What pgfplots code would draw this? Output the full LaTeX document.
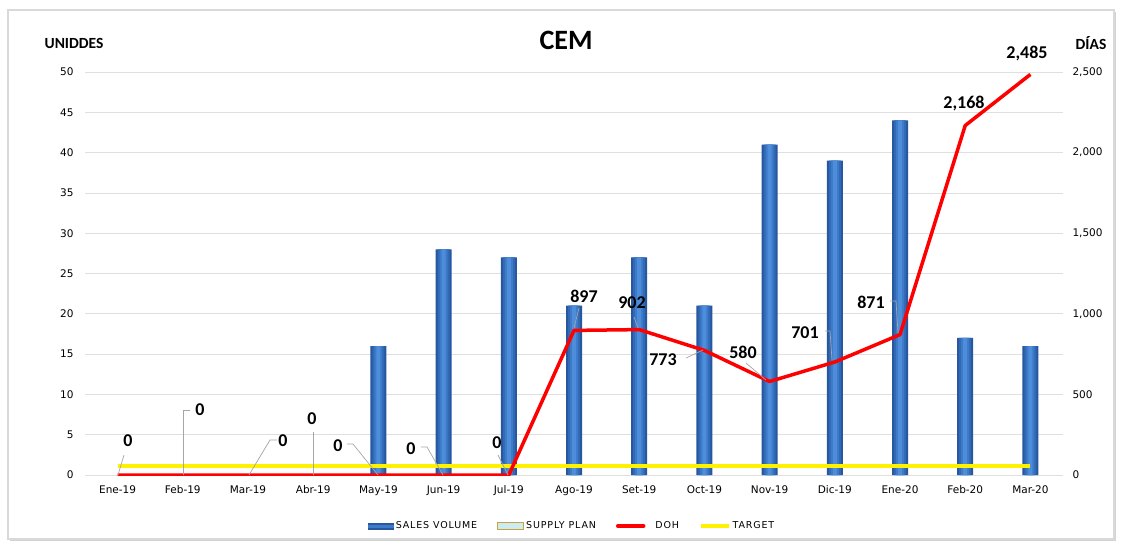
\documentclass[border=0pt]{standalone}
\usepackage{pgfplots}
\pgfplotsset{compat=1.18}
\usepackage{fontspec}
\setmainfont{Carlito}
\newfontfamily\tickfont{DejaVu Sans}
\newfontfamily\legfont[LetterSpace=9]{DejaVu Sans}
\usetikzlibrary{shadows}
\definecolor{barA}{HTML}{26579F}
\definecolor{barB}{HTML}{3169B6}
\definecolor{barC}{HTML}{3D7BC9}
\definecolor{barD}{HTML}{4D8DDA}
\definecolor{supfill}{HTML}{CDEBF3}
\definecolor{supedge}{HTML}{C9A43A}
\begin{document}
\begin{tikzpicture}[x=1pt,y=1pt]
\path (0,0) rectangle (1123,547);
\draw[gray!30, line width=1.5pt, fill=white, drop shadow={shadow xshift=2pt, shadow yshift=-2pt, opacity=0.35}] (8,8) rectangle (1114,537);
\begin{axis}[
  at={(85pt,72pt)}, anchor=south west, scale only axis,
  width=978pt, height=403pt,
  xmin=-0.5, xmax=14.5, ymin=0, ymax=50,
  ytick={0,5,...,50},
  xtick={0,...,14},
  xticklabels={Ene-19,Feb-19,Mar-19,Abr-19,May-19,Jun-19,Jul-19,Ago-19,Set-19,Oct-19,Nov-19,Dic-19,Ene-20,Feb-20,Mar-20},
  ymajorgrids, grid style={gray!25, line width=0.8pt},
  axis line style={draw=none}, major tick style={draw=none},
  tick label style={font=\tickfont\fontsize{10.5}{12}\selectfont},
  xticklabel style={yshift=-7pt},
  yticklabel style={xshift=-8pt},
  /pgf/number format/assume math mode=true,
  legend columns=4,
  legend style={at={(0.5,0)}, anchor=center, yshift=-51pt, xshift=-2pt, draw=none, fill=none,
    font=\legfont\fontsize{9.5}{11}\selectfont, /tikz/every even column/.append style={column sep=18pt}},
]
\addplot[ybar, bar width=16pt, bar shift=0pt, draw=none, fill=barA,
  legend image code/.code={\fill[barA] (0pt,-3.5pt) rectangle (26pt,3.5pt);\fill[barC] (0pt,-1.5pt) rectangle (26pt,1.5pt);}]
  coordinates {(4,16) (5,28) (6,27) (7,21) (8,27) (9,21) (10,41) (11,39) (12,44) (13,17) (14,16)};
\addlegendentry{SALES VOLUME}
\addplot[ybar, bar width=12pt, bar shift=0pt, draw=none, fill=barB, forget plot]
  coordinates {(4,16) (5,28) (6,27) (7,21) (8,27) (9,21) (10,41) (11,39) (12,44) (13,17) (14,16)};
\addplot[ybar, bar width=8pt, bar shift=0pt, draw=none, fill=barC, forget plot]
  coordinates {(4,16) (5,28) (6,27) (7,21) (8,27) (9,21) (10,41) (11,39) (12,44) (13,17) (14,16)};
\addplot[ybar, bar width=4pt, bar shift=0pt, draw=none, fill=barD, forget plot]
  coordinates {(4,16) (5,28) (6,27) (7,21) (8,27) (9,21) (10,41) (11,39) (12,44) (13,17) (14,16)};
\addlegendimage{legend image code/.code={\draw[supedge, fill=supfill, line width=1pt] (0pt,-3.5pt) rectangle (26pt,3.5pt);}}
\addlegendentry{SUPPLY PLAN}
\addlegendimage{legend image code/.code={\draw[red, line width=3.5pt, line cap=round] (2pt,0pt) -- (28pt,0pt);}}
\addlegendentry{\hspace{8pt}DOH}
\addplot[yellow, line width=4pt, legend image code/.code={\draw[yellow, line width=3.5pt] (0pt,0pt) -- (28pt,0pt);}]
  coordinates {(0,1.1) (14,1.1)};
\addlegendentry{TARGET}
\end{axis}
\begin{axis}[
  at={(85pt,72pt)}, anchor=south west, scale only axis,
  width=978pt, height=403pt,
  xmin=-0.5, xmax=14.5, ymin=0, ymax=2500,
  hide x axis, axis y line*=right,
  ytick={0,500,...,2500},
  axis line style={draw=none}, major tick style={draw=none},
  tick label style={font=\tickfont\fontsize{10.5}{12}\selectfont},
  yticklabel style={xshift=6pt},
  /pgf/number format/1000 sep={,},
  /pgf/number format/assume math mode=true,
]
\addplot[red, line width=3.5pt, line join=round]
  coordinates {(0,0) (1,0) (2,0) (3,0) (4,0) (5,0) (6,0) (7,897) (8,902) (9,773) (10,580) (11,701) (12,871) (13,2168) (14,2485)};
\end{axis}
% titles
\node[font=\bfseries\fontsize{28}{30}\selectfont] at (566,507) {CEM};
\node[font=\bfseries\fontsize{15.5}{17}\selectfont] at (74,504) {UNIDDES};
\node[font=\bfseries\fontsize{15.5}{17}\selectfont] at (1091,504) {DÍAS};
% leader lines
\begin{scope}[gray!70, line width=0.7pt]
\draw (124,92)--(118,72);
\draw (183,72)--(183,137)--(190,137);
\draw (249,72)--(270,107)--(277,107);
\draw (313,72)--(313,115);
\draw (347,103)--(353,103)--(378,72);
\draw (421,100)--(427,100)--(443,72);
\draw (498,92)--(508,72);
\draw (574,219)--(579,239);
\draw (634,230)--(638,219);
\draw (686,189)--(703,197);
\draw (746,184)--(766,167);
\draw (825,216)--(830,216)--(832,187);
\draw (890,246)--(896,246)--(898,214);
\end{scope}
% data labels
\begin{scope}[font=\bfseries\fontsize{18}{19}\selectfont]
\node at (128,106) {0};
\node at (200,137) {0};
\node at (283,106) {0};
\node at (312,128) {0};
\node at (338,101) {0};
\node at (411,98) {0};
\node at (497,104) {0};
\node at (584,251) {897};
\node at (632,244) {902};
\node at (663,187) {773};
\node at (743,195) {580};
\node at (805,214) {701};
\node at (871,245) {871};
\node at (964,443) {2,168};
\node at (1027,493) {2,485};
\end{scope}
\end{tikzpicture}
\end{document}
